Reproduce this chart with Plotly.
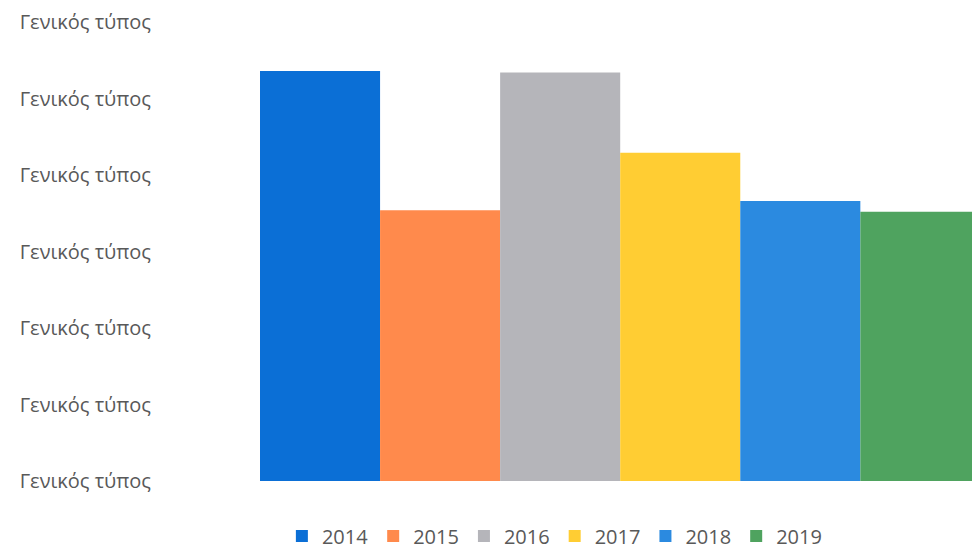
import plotly.graph_objects as go

# Series: one bar per year
years = ["2014", "2015", "2016", "2017", "2018", "2019"]
values = [5.36, 3.54, 5.34, 4.29, 3.66, 3.52]
colors = ["#0B6FD6", "#FF8A4C", "#B5B5BA", "#FFCD33", "#2B8AE0", "#4FA35F"]

# Value axis: every tick carries the same (unformatted) label
tick_values = [0, 1, 2, 3, 4, 5, 6]
tick_labels = ["Γενικός τύπος"] * len(tick_values)

fig = go.Figure()
for i, (yr, v, c) in enumerate(zip(years, values, colors)):
    fig.add_trace(go.Bar(
        x=[i], y=[v], name=yr, width=1.0,
        marker=dict(color=c, line=dict(width=0)),
    ))

fig.update_layout(
    width=972, height=551,
    margin=dict(l=260, r=0, t=22, b=70),
    paper_bgcolor="white", plot_bgcolor="white",
    barmode="overlay",
    showlegend=True,
    font=dict(family="Open Sans, sans-serif", color="#595959"),
    xaxis=dict(range=[-0.5, 5.43], showticklabels=False, showgrid=False,
               zeroline=False, showline=False, ticks=""),
    yaxis=dict(range=[0, 6], tickvals=tick_values, ticktext=tick_labels,
               showgrid=False, zeroline=False, showline=False, ticks="",
               tickfont=dict(size=20, color="#595959"),
               ticklabelstandoff=108),
    legend=dict(orientation="h", xref="container", yref="container",
                x=0.29, y=0.027, xanchor="left", yanchor="middle",
                font=dict(size=20, color="#595959"), traceorder="normal"),
)

fig.write_html("out.html")
